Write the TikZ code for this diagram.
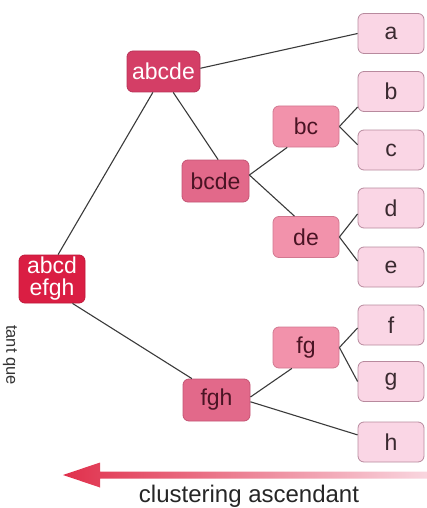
\documentclass[tikz,border=0pt]{standalone}
\usepackage{fontspec}
\setmainfont{Liberation Sans}
\definecolor{cTop}{HTML}{DA1E43}
\definecolor{cTopB}{HTML}{C0183A}
\definecolor{cL1}{HTML}{D43E66}
\definecolor{cL1B}{HTML}{B83257}
\definecolor{cL2}{HTML}{E2698A}
\definecolor{cL2B}{HTML}{C45574}
\definecolor{cL3}{HTML}{F292AB}
\definecolor{cL3B}{HTML}{D27890}
\definecolor{cLeaf}{HTML}{FAD6E5}
\definecolor{cLeafB}{HTML}{B88A9E}
\definecolor{cDarkTxt}{HTML}{4A1424}
\definecolor{cLeafTxt}{HTML}{3A2A30}
\definecolor{cLine}{HTML}{3A3A3A}
\definecolor{cArrL}{HTML}{E0304C}
\definecolor{cArrR}{HTML}{F9D6DF}
\tikzset{
  boxbase/.style={rectangle, rounded corners=6pt, inner sep=0pt, line width=0.8pt,
    font=\fontsize{23}{22}\selectfont, align=center},
  topbox/.style={boxbase, fill=cTop, draw=cTopB, text=white, minimum width=66pt, minimum height=48pt},
  lvlone/.style={boxbase, fill=cL1, draw=cL1B, text=white, minimum width=73pt, minimum height=41pt},
  lvltwo/.style={boxbase, fill=cL2, draw=cL2B, text=cDarkTxt, minimum width=67pt, minimum height=42pt},
  lvlthree/.style={boxbase, fill=cL3, draw=cL3B, text=cDarkTxt, minimum width=66pt, minimum height=41pt},
  leafbox/.style={boxbase, fill=cLeaf, draw=cLeafB, text=cLeafTxt, minimum width=66pt, minimum height=40pt},
  link/.style={draw=cLine, line width=1.1pt}
}
\begin{document}
\begin{tikzpicture}[x=1pt,y=-1pt]
\useasboundingbox (0,0) rectangle (427,508);
% nodes
\node[topbox]   (abcdefgh) at (52,279) {abcd\\efgh};
\node[lvlone]   (abcde) at (163.5,71.5) {abcde};
\node[lvltwo]   (bcde)  at (215.5,181) {bcde};
\node[lvltwo]   (fgh)   at (216.5,400) {fgh};
\node[lvlthree] (bc)    at (306,126.5) {bc};
\node[lvlthree] (de)    at (306,237) {de};
\node[lvlthree] (fg)    at (306,347.5) {fg};
\node[leafbox]  (a) at (391,33.5) {a};
\node[leafbox]  (b) at (391,91.5) {b};
\node[leafbox]  (c) at (391,150) {c};
\node[leafbox]  (d) at (391,208) {d};
\node[leafbox]  (e) at (391,267) {e};
\node[leafbox]  (f) at (391,325) {f};
\node[leafbox]  (g) at (391,381.5) {g};
\node[leafbox]  (h) at (391,442) {h};
% connectors
\draw[link] (abcdefgh.76) -- (abcde.243);
\draw[link] (abcdefgh.-50) -- (fgh.139);
\draw[link] (abcde.5) -- (a.west);
\draw[link] (abcde.295) -- (bcde.83);
\draw[link] (bcde.10) -- (bc.228);
\draw[link] (bcde.10) -- (de.119);
\draw[link] (bc.east) -- (b.205);
\draw[link] (bc.east) -- (c.171);
\draw[link] (de.east) -- (d.190);
\draw[link] (de.east) -- (e.170);
\draw[link] (fgh.5) -- (fg.236);
\draw[link] (fgh.-3) -- (h.168);
\draw[link] (fg.east) -- (f.185);
\draw[link] (fg.east) -- (g.180);
% side label
\node[rotate=-90, font=\fontsize{16.5}{18}\selectfont, text=black!80] (tantque) at (10,355) {tant que};
% arrow
\coordinate (arrtip) at (63,475);
\coordinate (arrend) at (427,475);
\shade[left color=cArrL, right color=cArrR]
  (arrtip) -- (100,462.5) -- (100,471.5) -- (arrend |- 0,471.5) -- (arrend |- 0,478.5)
  -- (100,478.5) -- (100,487.5) -- cycle;
\node[font=\fontsize{24}{26}\selectfont, text=black!85, anchor=base] (clust) at (249,502) {clustering ascendant};
\end{tikzpicture}
\end{document}
